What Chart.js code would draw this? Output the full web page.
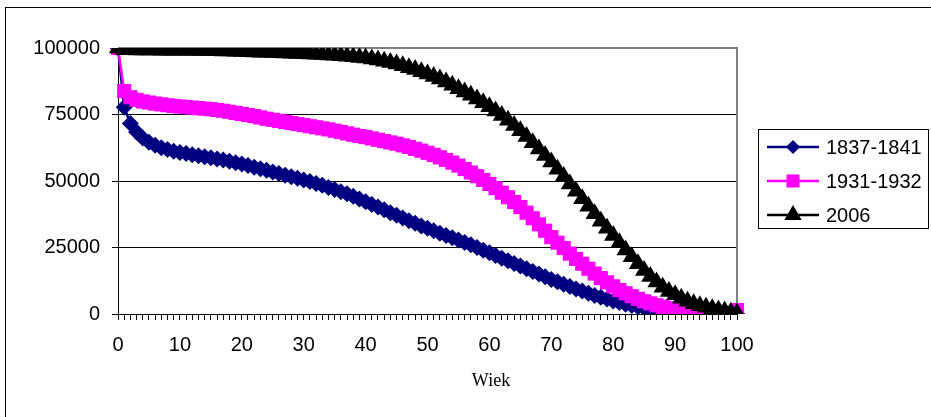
<!DOCTYPE html>
<html>
<head>
<meta charset="utf-8">
<script src="https://cdn.jsdelivr.net/npm/chart.js@4/dist/chart.umd.min.js"></script>
<style>
  html, body { margin: 0; padding: 0; background: #fff; }
  #wrap { width: 931px; height: 417px; }
</style>
</head>
<body>
<div id="wrap"><canvas id="lifeChart" width="931" height="417"></canvas></div>
<script>
var ages = [0,1,2,3,4,5,6,7,8,9,10,11,12,13,14,15,16,17,18,19,
  20,21,22,23,24,25,26,27,28,29,30,31,32,33,34,35,36,37,38,39,
  40,41,42,43,44,45,46,47,48,49,50,51,52,53,54,55,56,57,58,59,
  60,61,62,63,64,65,66,67,68,69,70,71,72,73,74,75,76,77,78,79,
  80,81,82,83,84,85,86,87,88,89,90,91,92,93,94,95,96,97,98,99,100];

var seriesNames = ["1837-1841", "1931-1932", "2006"];

var surv1837 = [100000,77700,71600,68400,66200,64600,63400,62500,61800,61200,
  60700,60300,59900,59500,59100,58700,58300,57900,57400,56900,
  56400,55800,55200,54600,54000,53400,52800,52200,51600,51000,
  50400,49800,49100,48400,47600,46800,46000,45200,44300,43200,
  42200,41200,40200,39200,38100,37100,36100,35100,34100,33100,
  32200,31300,30400,29500,28700,27800,26900,26000,25000,24000,
  23000,22000,21000,20000,19000,18000,17000,16000,15000,14000,
  13000,12100,11200,10300,9400,8600,7800,7000,6300,5600,
  4900,4300,3700,3200,2700,2300,1900,1550,1250,1000,
  800,620,480,360,270,200,140,100,70,45,30];

var surv1931 = [100000,83800,81500,80500,79900,79500,79100,78800,78500,78200,
  78000,77800,77600,77400,77200,77000,76700,76400,76000,75600,
  75200,74800,74400,73900,73400,73000,72600,72200,71800,71400,
  71000,70600,70200,69800,69400,68900,68400,67900,67400,66900,
  66500,66000,65500,65000,64500,64000,63400,62800,62100,61400,
  60600,59800,58900,57900,56900,55800,54500,53200,51800,50400,
  48900,47300,45600,43900,42100,40200,38100,36000,33700,31300,
  28900,26800,24800,22700,20700,18900,17000,15200,13500,11900,
  10400,9000,7800,6700,5700,4800,4000,3300,2700,2200,
  1800,1400,1000,700,450,280,170,100,60,30,1500];

var surv2006 = [100000,99350,99300,99270,99250,99230,99210,99200,99180,99170,
  99150,99130,99110,99090,99060,99020,98970,98910,98840,98760,
  98680,98600,98520,98440,98360,98280,98200,98120,98030,97940,
  97840,97740,97630,97510,97380,97240,97080,96900,96700,96470,
  96200,95880,95500,95050,94550,94000,93300,92600,91900,91100,
  90200,89300,88300,87200,86000,84700,83500,82200,80800,79400,
  77900,76300,74600,72800,70900,68900,66700,64400,62000,59600,
  57100,54400,51700,48900,46100,43300,40500,37700,34900,32200,
  29500,26800,24100,21500,18900,16400,14100,12000,10100,8500,
  7200,5900,4800,3900,3100,2500,2000,1500,1100,700,400];

var yTicks = [0, 25000, 50000, 75000, 100000];
var xTitle = "Wiek";

var colors = ['#000080', '#FF00FF', '#000000'];
var markers = ['rectRot', 'rect', 'triangle'];
var markerSize = [8.5, 10, 10.5];
var legendMarkerSize = [7, 9.2, 10];

function drawMarker(ctx, style, x, y, r) {
  ctx.beginPath();
  if (style === 'rectRot') {
    ctx.moveTo(x, y - r); ctx.lineTo(x + r, y); ctx.lineTo(x, y + r); ctx.lineTo(x - r, y);
  } else if (style === 'rect') {
    var s = r * Math.SQRT1_2;
    ctx.rect(x - s, y - s, 2 * s, 2 * s);
  } else {
    ctx.moveTo(x, y - r);
    ctx.lineTo(x + r * 0.866, y + r * 0.5);
    ctx.lineTo(x - r * 0.866, y + r * 0.5);
  }
  ctx.closePath();
  ctx.fill();
}

// outer frame, plot border, axis title and legend
var decor = {
  id: 'decor',
  beforeDatasetsDraw(chart) {
    var ctx = chart.ctx, a = chart.chartArea;
    ctx.save();
    ctx.strokeStyle = '#808080';
    ctx.lineWidth = 2;
    ctx.beginPath();
    ctx.moveTo(a.left, a.top);
    ctx.lineTo(a.right, a.top);
    ctx.lineTo(a.right, a.bottom);
    ctx.stroke();
    ctx.restore();
  },
  afterDraw(chart) {
    var ctx = chart.ctx;
    ctx.save();
    ctx.strokeStyle = '#000';
    ctx.lineWidth = 1;
    ctx.strokeRect(5.5, 7.5, 1000, 1000);

    ctx.fillStyle = '#000';
    ctx.font = '18px "Liberation Serif"';
    ctx.textAlign = 'center';
    ctx.textBaseline = 'middle';
    ctx.fillText(xTitle, 491, 381);

    ctx.strokeRect(758.5, 129.5, 170, 99);
    ctx.font = '20px "Liberation Sans"';
    ctx.textAlign = 'left';
    for (var i = 0; i < seriesNames.length; i++) {
      var y = 147 + i * 34;
      ctx.strokeStyle = colors[i];
      ctx.fillStyle = colors[i];
      ctx.lineWidth = 2.5;
      ctx.beginPath();
      ctx.moveTo(767, y);
      ctx.lineTo(819, y);
      ctx.stroke();
      drawMarker(ctx, markers[i], 793, y, legendMarkerSize[i]);
      ctx.fillStyle = '#000';
      ctx.fillText(seriesNames[i], 826, y + 1);
    }
    ctx.restore();
  }
};

function makeSet(i, values, order) {
  return {
    label: seriesNames[i],
    data: values,
    borderColor: colors[i],
    backgroundColor: colors[i],
    borderWidth: 2.5,
    pointStyle: markers[i],
    pointRadius: markerSize[i],
    pointBorderWidth: 0,
    pointBackgroundColor: colors[i],
    tension: 0,
    order: order
  };
}

var chart = new Chart(document.getElementById('lifeChart').getContext('2d'), {
  type: 'line',
  data: {
    labels: ages,
    datasets: [
      makeSet(0, surv1837, 3),
      makeSet(1, surv1931, 2),
      makeSet(2, surv2006, 1)
    ]
  },
  options: {
    responsive: false,
    animation: false,
    devicePixelRatio: 1,
    layout: { padding: { left: 0, right: 194, top: 48, bottom: 0 } },
    plugins: { legend: { display: false }, tooltip: { enabled: false } },
    scales: {
      x: {
        type: 'category',
        offset: false,
        afterFit: function (s) { s.height = 103; },
        border: { display: true, color: '#000', width: 1 },
        grid: { drawOnChartArea: false, drawTicks: true, tickLength: 6, color: '#000' },
        ticks: {
          autoSkip: false, maxRotation: 0, minRotation: 0, padding: 13,
          color: '#000', font: { family: 'Liberation Sans', size: 20 },
          callback: function (v, i) { return i % 10 === 0 ? String(ages[i]) : ''; }
        }
      },
      y: {
        min: 0, max: 100000,
        afterFit: function (s) { s.width = 118; },
        afterBuildTicks: function (s) { s.ticks = yTicks.map(function (v) { return { value: v }; }); },
        border: { display: true, color: '#000', width: 1 },
        grid: {
          color: function (c) { return c.tick && c.tick.value === 100000 ? 'rgba(0,0,0,0)' : '#000'; },
          tickLength: 6
        },
        ticks: {
          padding: 12, color: '#000', font: { family: 'Liberation Sans', size: 20 },
          callback: function (v) { return String(v); }
        }
      }
    }
  },
  plugins: [decor]
});
</script>
</body>
</html>
